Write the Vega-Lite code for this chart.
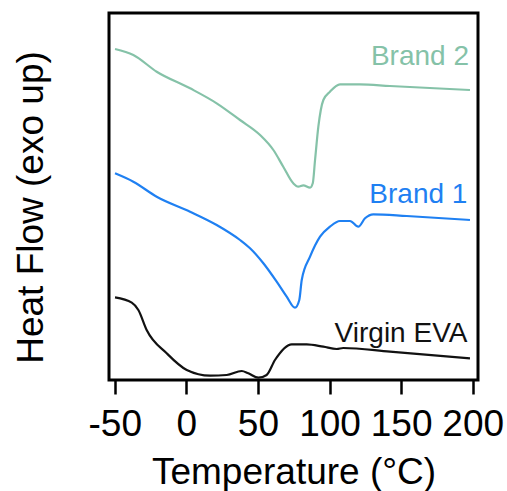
{
  "$schema": "https://vega.github.io/schema/vega-lite/v6.json",
  "width": 369,
  "height": 367,
  "autosize": {"type": "none"},
  "padding": {"left": 109, "top": 13, "right": 29, "bottom": 111},
  "config": {
    "font": "Liberation Sans",
    "view": {"stroke": "black", "strokeWidth": 3}
  },
  "datasets": {
    "curves": [
      {"series": "Brand 2", "t": -49.8, "hf": 331},
      {"series": "Brand 2", "t": -37.0, "hf": 325},
      {"series": "Brand 2", "t": -20.7, "hf": 308.3},
      {"series": "Brand 2", "t": 2.6, "hf": 291.7},
      {"series": "Brand 2", "t": 21.2, "hf": 276.7},
      {"series": "Brand 2", "t": 37.5, "hf": 260},
      {"series": "Brand 2", "t": 51.5, "hf": 245},
      {"series": "Brand 2", "t": 60.8, "hf": 230},
      {"series": "Brand 2", "t": 67.7, "hf": 213.3},
      {"series": "Brand 2", "t": 74.7, "hf": 196.7},
      {"series": "Brand 2", "t": 78.2, "hf": 193.3},
      {"series": "Brand 2", "t": 81.7, "hf": 194.7},
      {"series": "Brand 2", "t": 86.4, "hf": 192.3},
      {"series": "Brand 2", "t": 88.3, "hf": 196.7},
      {"series": "Brand 2", "t": 89.9, "hf": 220},
      {"series": "Brand 2", "t": 92.2, "hf": 253.3},
      {"series": "Brand 2", "t": 95.7, "hf": 280},
      {"series": "Brand 2", "t": 100.3, "hf": 288.3},
      {"series": "Brand 2", "t": 107.3, "hf": 295.7},
      {"series": "Brand 2", "t": 121.2, "hf": 295.7},
      {"series": "Brand 2", "t": 142.2, "hf": 294},
      {"series": "Brand 2", "t": 198.1, "hf": 290},
      {"series": "Brand 1", "t": -49.8, "hf": 206.7},
      {"series": "Brand 1", "t": -37.0, "hf": 198.3},
      {"series": "Brand 1", "t": -20.7, "hf": 183.3},
      {"series": "Brand 1", "t": 2.6, "hf": 168.3},
      {"series": "Brand 1", "t": 21.2, "hf": 155},
      {"series": "Brand 1", "t": 37.5, "hf": 140},
      {"series": "Brand 1", "t": 44.5, "hf": 131.7},
      {"series": "Brand 1", "t": 53.8, "hf": 116.7},
      {"series": "Brand 1", "t": 63.1, "hf": 98.3},
      {"series": "Brand 1", "t": 70.1, "hf": 83.3},
      {"series": "Brand 1", "t": 75.9, "hf": 72.3},
      {"series": "Brand 1", "t": 78.9, "hf": 80},
      {"series": "Brand 1", "t": 80.6, "hf": 100},
      {"series": "Brand 1", "t": 86.4, "hf": 123.3},
      {"series": "Brand 1", "t": 93.4, "hf": 143.3},
      {"series": "Brand 1", "t": 100.3, "hf": 153.3},
      {"series": "Brand 1", "t": 107.3, "hf": 159},
      {"series": "Brand 1", "t": 114.3, "hf": 159},
      {"series": "Brand 1", "t": 120.1, "hf": 153.3},
      {"series": "Brand 1", "t": 124.8, "hf": 161.7},
      {"series": "Brand 1", "t": 130.6, "hf": 165.7},
      {"series": "Brand 1", "t": 153.9, "hf": 164},
      {"series": "Brand 1", "t": 198.1, "hf": 160},
      {"series": "Virgin EVA", "t": -49.8, "hf": 82.7},
      {"series": "Virgin EVA", "t": -38.1, "hf": 77.3},
      {"series": "Virgin EVA", "t": -33.5, "hf": 70},
      {"series": "Virgin EVA", "t": -27.7, "hf": 50},
      {"series": "Virgin EVA", "t": -13.7, "hf": 26.7},
      {"series": "Virgin EVA", "t": 0.3, "hf": 10},
      {"series": "Virgin EVA", "t": 16.6, "hf": 4.3},
      {"series": "Virgin EVA", "t": 28.2, "hf": 5},
      {"series": "Virgin EVA", "t": 38.7, "hf": 9},
      {"series": "Virgin EVA", "t": 43.3, "hf": 6.7},
      {"series": "Virgin EVA", "t": 50.3, "hf": 2.3},
      {"series": "Virgin EVA", "t": 56.1, "hf": 5},
      {"series": "Virgin EVA", "t": 61.9, "hf": 20},
      {"series": "Virgin EVA", "t": 73.6, "hf": 35.7},
      {"series": "Virgin EVA", "t": 84.1, "hf": 35.7},
      {"series": "Virgin EVA", "t": 95.7, "hf": 33.3},
      {"series": "Virgin EVA", "t": 105.0, "hf": 31},
      {"series": "Virgin EVA", "t": 109.6, "hf": 32},
      {"series": "Virgin EVA", "t": 142.2, "hf": 28.3},
      {"series": "Virgin EVA", "t": 198.1, "hf": 21.7}
    ],
    "labels": [
      {"series": "Brand 2", "t": 197.4, "hf": 315},
      {"series": "Brand 1", "t": 196.3, "hf": 177.3},
      {"series": "Virgin EVA", "t": 196.3, "hf": 38.3}
    ]
  },
  "encoding": {
    "x": {
      "field": "t", "type": "quantitative",
      "scale": {"domain": [-54, 203.7], "nice": false, "zero": false},
      "axis": {
        "title": "Temperature (°C)",
        "values": [-50, 0, 50, 100, 150, 200],
        "labelExpr": "'' + datum.value",
        "grid": false, "domain": false,
        "tickColor": "black", "tickWidth": 2.5, "tickSize": 14,
        "labelFontSize": 37, "labelColor": "black", "labelPadding": 12,
        "labelFlush": false, "labelOverlap": false,
        "titleFontSize": 37, "titleFontWeight": "normal", "titleColor": "black",
        "titleBaseline": "alphabetic", "titleY": 103
      }
    },
    "y": {
      "field": "hf", "type": "quantitative",
      "scale": {"domain": [0, 367], "nice": false, "zero": false},
      "axis": {
        "title": "Heat Flow (exo up)",
        "grid": false, "domain": false, "ticks": false, "labels": false,
        "titleFontSize": 37, "titleFontWeight": "normal", "titleColor": "black",
        "titleAngle": -90, "titleBaseline": "alphabetic", "titleAlign": "center",
        "titleX": -67, "titleY": 194
      }
    },
    "color": {
      "field": "series", "type": "nominal",
      "scale": {"domain": ["Brand 2", "Brand 1", "Virgin EVA"], "range": ["#85c2a8", "#1f80f2", "#111111"]},
      "legend": null
    }
  },
  "layer": [
    {
      "data": {"name": "curves"},
      "mark": {"type": "line", "strokeWidth": 2.2, "interpolate": "monotone"},
      "encoding": {"detail": {"field": "series"}}
    },
    {
      "data": {"name": "labels"},
      "mark": {"type": "text", "align": "right", "baseline": "alphabetic", "fontSize": 28},
      "encoding": {"text": {"field": "series"}}
    }
  ]
}
